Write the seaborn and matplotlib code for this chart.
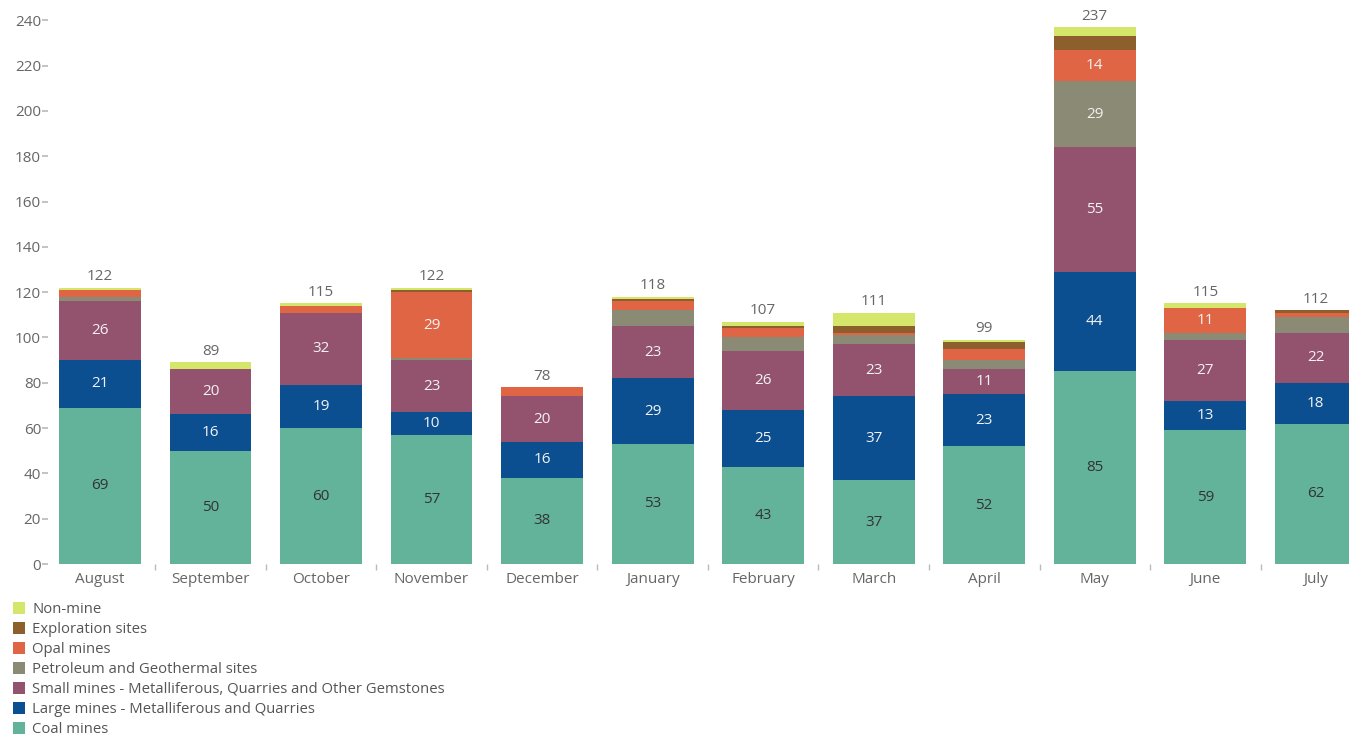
import matplotlib
matplotlib.use("Agg")
import matplotlib.pyplot as plt
import seaborn as sns
import pandas as pd
import numpy as np
from matplotlib.patches import Patch

months = ["August", "September", "October", "November", "December", "January",
          "February", "March", "April", "May", "June", "July"]
categories = ["Non-mine", "Exploration sites", "Opal mines",
              "Petroleum and Geothermal sites",
              "Small mines - Metalliferous, Quarries and Other Gemstones",
              "Large mines - Metalliferous and Quarries", "Coal mines"]

coal_mines = [69, 50, 60, 57, 38, 53, 43, 37, 52, 85, 59, 62]
large_mines = [21, 16, 19, 10, 16, 29, 25, 37, 23, 44, 13, 18]
small_mines = [26, 20, 32, 23, 20, 23, 26, 23, 11, 55, 27, 22]
petroleum = [2, 0, 0, 1, 0, 7, 6, 4, 4, 29, 3, 7]
opal_mines = [3, 0, 3, 29, 4, 4, 4, 1, 5, 14, 11, 2]
exploration = [0, 0, 0, 1, 0, 1, 1, 3, 3, 6, 0, 1]
non_mine = [1, 3, 1, 1, 0, 1, 2, 6, 1, 4, 2, 0]
totals = [122, 89, 115, 122, 78, 118, 107, 111, 99, 237, 115, 112]

colors = {
    "Non-mine": "#d5e76b",
    "Exploration sites": "#8d5f2c",
    "Opal mines": "#df6545",
    "Petroleum and Geothermal sites": "#8b8a74",
    "Small mines - Metalliferous, Quarries and Other Gemstones": "#93536f",
    "Large mines - Metalliferous and Quarries": "#0b4f91",
    "Coal mines": "#63b39b",
}

series = {
    "Coal mines": coal_mines,
    "Large mines - Metalliferous and Quarries": large_mines,
    "Small mines - Metalliferous, Quarries and Other Gemstones": small_mines,
    "Petroleum and Geothermal sites": petroleum,
    "Opal mines": opal_mines,
    "Exploration sites": exploration,
    "Non-mine": non_mine,
}

rows = []
for cat, vals in series.items():
    for m, v in zip(months, vals):
        rows.append({"month": m, "category": cat, "value": v})
df = pd.DataFrame(rows)
df["month"] = pd.Categorical(df["month"], categories=months, ordered=True)
df["x"] = df["month"].cat.codes

sns.set_theme(style="white")
plt.rcParams["font.family"] = ["Open Sans", "DejaVu Sans"]

fig = plt.figure(figsize=(13.49, 7.37), dpi=100)
ax = fig.add_axes([48 / 1349, 1 - 564 / 737, 1 - 48 / 1349, (564 - 9) / 737])

sns.histplot(data=df, x="x", weights="value", hue="category",
             hue_order=categories, multiple="stack", discrete=True,
             shrink=0.74, palette=colors, alpha=1, linewidth=0,
             legend=False, ax=ax)

# segment labels
stack_order = list(series.keys())
for i in range(len(months)):
    base = 0
    for cat in stack_order:
        v = series[cat][i]
        if v >= 10:
            col = "#333333" if cat == "Coal mines" else "#f2f2f2"
            ax.text(i, base + v / 2, str(v), ha="center", va="center",
                    fontsize=11, color=col)
        base += v
    ax.text(i, totals[i] + 1.5, str(totals[i]), ha="center", va="bottom",
            fontsize=11, color="#666666")

ax.set_xlim(-0.47, 11.30)
ax.set_ylim(0, 245)
ax.set_yticks(np.arange(0, 241, 20))
ax.set_xticks(range(len(months)))
ax.set_xticklabels(months)
ax.set_xticks(np.arange(0.5, len(months) - 0.5, 1), minor=True)
ax.tick_params(axis="x", which="major", length=0, labelsize=11,
               labelcolor="#666666", pad=6)
ax.tick_params(axis="x", which="minor", length=4, color="#bbbbbb",
               width=1, bottom=True)
ax.tick_params(axis="y", which="major", length=4, color="#bbbbbb",
               labelsize=11, labelcolor="#666666", left=True, pad=1)
ax.set_xlabel("")
ax.set_ylabel("")
for s in ax.spines.values():
    s.set_visible(False)

handles = [Patch(facecolor=colors[c], edgecolor="none", label=c) for c in categories]
fig.legend(handles=handles, loc="upper left", bbox_to_anchor=(0.005, 1 - 596 / 737),
           frameon=False, fontsize=10.7, handlelength=0.85, handleheight=0.85,
           handletextpad=0.45, labelspacing=0.33, borderaxespad=0,
           labelcolor="#555555")

fig.savefig("out.png", dpi=100)
